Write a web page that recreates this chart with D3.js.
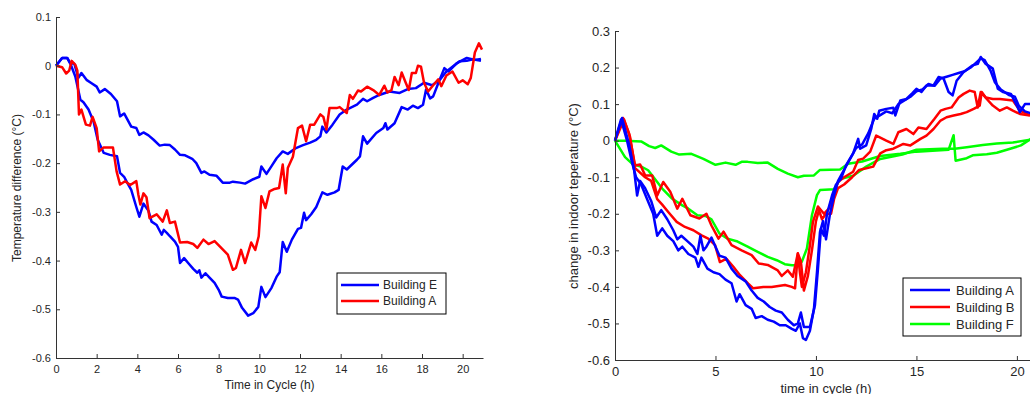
<!DOCTYPE html>
<html>
<head>
<meta charset="utf-8">
<script src="https://cdn.jsdelivr.net/npm/d3@7"></script>
<style>
  body { margin: 0; background: #fff; }
  svg { display: block; font-family: Arial, "Liberation Sans", sans-serif; }
</style>
</head>
<body>
<svg id="chart" width="1030" height="394"></svg>
<script>
// left chart: [time (h), temperature difference]
const leftBuildingE1 = [[0,0],[0.3,0.016],[0.55,0.016],[0.7,0.005],[0.9,0.004],[1.1,-0.025],[1.25,-0.015],[1.5,-0.029],[1.75,-0.036],[2.0,-0.043],[2.15,-0.055],[2.4,-0.048],[2.7,-0.058],[3.0,-0.073],[3.15,-0.104],[3.35,-0.098],[3.7,-0.125],[3.95,-0.128],[4.1,-0.142],[4.3,-0.137],[4.55,-0.143],[4.8,-0.152],[5.1,-0.164],[5.35,-0.162],[5.6,-0.163],[5.85,-0.172],[6.1,-0.183],[6.35,-0.184],[6.7,-0.191],[6.9,-0.2],[7.15,-0.22],[7.3,-0.217],[7.55,-0.224],[7.9,-0.226],[8.2,-0.24],[8.55,-0.24],[8.7,-0.238],[9.05,-0.24],[9.3,-0.242],[9.7,-0.233],[10.0,-0.228],[10.1,-0.207],[10.35,-0.222],[10.6,-0.206],[10.85,-0.19],[11.15,-0.176],[11.4,-0.181],[11.8,-0.169],[12.15,-0.163],[12.5,-0.158],[12.8,-0.152],[13.0,-0.145],[13.1,-0.125],[13.3,-0.137],[13.6,-0.121],[13.95,-0.1],[14.3,-0.09],[14.8,-0.08],[15.1,-0.068],[15.3,-0.073],[15.6,-0.066],[15.9,-0.06],[16.4,-0.053],[16.9,-0.056],[17.3,-0.048],[17.7,-0.046],[18.1,-0.035],[18.5,-0.04],[18.9,-0.028],[19.2,-0.012],[19.5,-0.002],[19.85,0.009],[20.2,0.01],[20.5,0.013],[20.9,0.01]];
const leftBuildingE2 = [[0,0],[0.3,0.016],[0.55,0.016],[0.7,0.005],[0.95,-0.022],[1.2,-0.07],[1.35,-0.075],[1.6,-0.09],[1.85,-0.115],[2.05,-0.152],[2.35,-0.179],[2.65,-0.183],[3.0,-0.186],[3.15,-0.22],[3.35,-0.228],[3.5,-0.24],[3.7,-0.255],[3.95,-0.29],[4.1,-0.31],[4.3,-0.283],[4.55,-0.298],[4.7,-0.32],[4.95,-0.327],[5.2,-0.347],[5.3,-0.337],[5.45,-0.343],[5.6,-0.35],[5.85,-0.361],[6.0,-0.372],[6.1,-0.405],[6.3,-0.395],[6.5,-0.405],[6.75,-0.417],[6.95,-0.425],[7.05,-0.42],[7.15,-0.435],[7.35,-0.426],[7.55,-0.435],[7.8,-0.446],[8.0,-0.46],[8.15,-0.474],[8.45,-0.477],[8.8,-0.477],[8.95,-0.48],[9.15,-0.497],[9.45,-0.513],[9.7,-0.508],[9.95,-0.495],[10.1,-0.454],[10.3,-0.475],[10.6,-0.456],[10.85,-0.433],[11.0,-0.424],[11.15,-0.362],[11.35,-0.382],[11.6,-0.357],[11.9,-0.335],[12.05,-0.333],[12.2,-0.302],[12.3,-0.317],[12.55,-0.305],[12.8,-0.29],[13.1,-0.26],[13.35,-0.265],[13.7,-0.26],[13.9,-0.255],[14.1,-0.207],[14.3,-0.213],[14.8,-0.193],[14.95,-0.186],[15.1,-0.145],[15.3,-0.16],[15.75,-0.138],[16.1,-0.128],[16.2,-0.118],[16.3,-0.131],[16.65,-0.118],[17.0,-0.085],[17.3,-0.09],[17.55,-0.082],[17.8,-0.087],[18.05,-0.08],[18.2,-0.049],[18.4,-0.067],[18.55,-0.063],[18.8,-0.036],[19.1,-0.005],[19.3,-0.012],[19.7,0.005],[20.2,0.016],[20.6,0.012],[20.9,0.014]];
const leftBuildingA = [[0,0],[0.3,-0.003],[0.5,-0.016],[0.65,-0.01],[0.77,0.01],[0.95,0.002],[1.05,-0.01],[1.13,-0.1],[1.25,-0.09],[1.47,-0.121],[1.67,-0.123],[1.8,-0.105],[2.0,-0.128],[2.12,-0.176],[2.33,-0.168],[2.8,-0.168],[2.98,-0.217],[3.15,-0.244],[3.4,-0.237],[3.65,-0.245],[3.95,-0.237],[4.05,-0.265],[4.15,-0.285],[4.3,-0.262],[4.45,-0.27],[4.6,-0.313],[4.95,-0.305],[5.25,-0.32],[5.45,-0.297],[5.6,-0.323],[5.85,-0.32],[6.1,-0.363],[6.45,-0.362],[6.75,-0.366],[6.95,-0.374],[7.25,-0.357],[7.5,-0.366],[7.8,-0.36],[8.15,-0.375],[8.45,-0.388],[8.7,-0.419],[8.85,-0.415],[9.1,-0.378],[9.3,-0.405],[9.6,-0.363],[9.8,-0.378],[9.97,-0.35],[10.1,-0.268],[10.3,-0.292],[10.5,-0.258],[10.75,-0.253],[10.97,-0.251],[11.15,-0.203],[11.3,-0.262],[11.4,-0.21],[11.65,-0.187],[11.9,-0.128],[12.1,-0.123],[12.3,-0.155],[12.5,-0.121],[12.7,-0.121],[13.0,-0.1],[13.15,-0.105],[13.3,-0.131],[13.45,-0.087],[13.8,-0.087],[13.95,-0.085],[14.3,-0.097],[14.45,-0.06],[14.6,-0.068],[14.85,-0.051],[15.0,-0.053],[15.3,-0.043],[15.6,-0.05],[15.9,-0.06],[16.15,-0.041],[16.3,-0.055],[16.5,-0.05],[16.65,-0.023],[16.85,-0.04],[17.0,-0.014],[17.2,-0.035],[17.35,-0.05],[17.5,-0.015],[17.7,-0.015],[17.8,0],[17.95,-0.002],[18.1,-0.035],[18.3,-0.053],[18.55,-0.04],[18.8,-0.028],[18.95,-0.042],[19.2,-0.02],[19.5,-0.012],[19.8,-0.035],[20.0,-0.03],[20.25,-0.038],[20.4,-0.025],[20.6,0.027],[20.8,0.046],[20.95,0.033]];

// right chart: [time (h), change in indoor temperature]
const rightBuildingA1 = [[0,0],[0.35,0.062],[0.7,-0.01],[0.95,-0.08],[1.1,-0.15],[1.25,-0.11],[1.5,-0.13],[1.8,-0.165],[2.05,-0.21],[2.3,-0.19],[2.6,-0.215],[2.9,-0.245],[3.1,-0.27],[3.3,-0.26],[3.6,-0.275],[3.9,-0.29],[4.1,-0.31],[4.25,-0.26],[4.4,-0.3],[4.55,-0.29],[4.8,-0.265],[5.0,-0.29],[5.2,-0.315],[5.5,-0.32],[5.8,-0.35],[6.1,-0.37],[6.5,-0.385],[6.8,-0.41],[7.1,-0.43],[7.4,-0.44],[7.7,-0.455],[8.0,-0.465],[8.3,-0.47],[8.6,-0.49],[8.9,-0.505],[9.1,-0.5],[9.25,-0.47],[9.4,-0.51],[9.7,-0.51],[9.95,-0.45],[10.1,-0.35],[10.25,-0.24],[10.4,-0.26],[10.55,-0.2],[10.8,-0.15],[11.0,-0.12],[11.25,-0.104],[11.5,-0.067],[11.85,-0.035],[12.1,0.005],[12.2,-0.022],[12.5,-0.013],[12.75,0.032],[12.9,0.073],[13.05,0.06],[13.15,0.082],[13.5,0.087],[13.85,0.09],[13.95,0.069],[14.2,0.11],[14.5,0.114],[14.8,0.13],[15.0,0.142],[15.25,0.133],[15.5,0.151],[15.85,0.151],[16.1,0.174],[16.35,0.17],[16.6,0.133],[16.8,0.124],[17.0,0.164],[17.35,0.188],[17.8,0.206],[18.05,0.21],[18.2,0.229],[18.45,0.21],[18.8,0.197],[19.05,0.142],[19.3,0.133],[19.7,0.128],[20.0,0.096],[20.15,0.078],[20.4,0.1],[20.7,0.1]];
const rightBuildingA2 = [[0,0],[0.3,0.058],[0.6,0],[0.85,-0.06],[1.05,-0.1],[1.3,-0.12],[1.6,-0.16],[1.9,-0.2],[2.1,-0.26],[2.35,-0.24],[2.6,-0.26],[2.9,-0.275],[3.15,-0.3],[3.35,-0.29],[3.65,-0.31],[4.0,-0.32],[4.15,-0.345],[4.3,-0.32],[4.6,-0.35],[4.9,-0.36],[5.2,-0.365],[5.5,-0.38],[5.8,-0.39],[6.05,-0.44],[6.2,-0.42],[6.5,-0.45],[6.8,-0.46],[7.0,-0.485],[7.3,-0.48],[7.6,-0.49],[7.9,-0.495],[8.2,-0.505],[8.5,-0.505],[8.8,-0.515],[9.0,-0.52],[9.2,-0.5],[9.35,-0.54],[9.5,-0.545],[9.7,-0.52],[9.9,-0.46],[10.05,-0.36],[10.2,-0.25],[10.35,-0.22],[10.5,-0.27],[10.7,-0.2],[10.9,-0.15],[11.1,-0.11],[11.4,-0.08],[11.7,-0.05],[12.0,-0.02],[12.3,-0.01],[12.6,0.02],[12.9,0.06],[13.2,0.07],[13.5,0.08],[13.8,0.075],[14.1,0.1],[14.4,0.11],[14.7,0.12],[15.0,0.135],[15.3,0.14],[15.6,0.155],[15.9,0.15],[16.2,0.17],[16.5,0.175],[16.8,0.18],[17.1,0.185],[17.4,0.19],[17.7,0.2],[18.0,0.215],[18.2,0.225],[18.4,0.22],[18.7,0.19],[18.9,0.16],[19.2,0.14],[19.6,0.125],[19.9,0.12],[20.1,0.095],[20.4,0.08],[20.7,0.075]];
const rightBuildingB1 = [[0,0],[0.4,0.062],[0.7,0.02],[1.0,-0.068],[1.25,-0.065],[1.5,-0.095],[1.85,-0.095],[2.1,-0.15],[2.4,-0.113],[2.75,-0.14],[3.1,-0.186],[3.35,-0.159],[3.75,-0.204],[4.2,-0.213],[4.55,-0.2],[4.8,-0.232],[5.15,-0.268],[5.4,-0.249],[5.8,-0.286],[6.3,-0.3],[6.8,-0.313],[7.15,-0.336],[7.6,-0.34],[8.1,-0.355],[8.3,-0.37],[8.6,-0.355],[8.85,-0.372],[9.1,-0.308],[9.2,-0.36],[9.3,-0.4],[9.5,-0.36],[9.7,-0.286],[9.85,-0.222],[10.1,-0.18],[10.4,-0.2],[10.65,-0.185],[10.85,-0.149],[11.1,-0.113],[11.4,-0.1],[11.85,-0.085],[12.1,-0.053],[12.35,-0.049],[12.7,-0.03],[13.0,0.014],[13.5,0],[13.85,-0.009],[14.1,0.023],[14.5,0.032],[14.85,0.018],[15.1,0.036],[15.5,0.032],[15.9,0.06],[16.2,0.082],[16.45,0.087],[16.75,0.091],[17.1,0.118],[17.35,0.128],[17.65,0.137],[17.9,0.133],[18.05,0.091],[18.2,0.133],[18.45,0.118],[18.8,0.114],[19.15,0.114],[19.8,0.11],[20.15,0.082],[20.65,0.069]];
const rightBuildingB2 = [[0,0],[0.45,0.058],[0.75,0.01],[1.0,-0.075],[1.5,-0.1],[1.8,-0.11],[2.1,-0.16],[2.35,-0.175],[2.65,-0.195],[3.07,-0.222],[3.48,-0.236],[3.9,-0.245],[4.31,-0.259],[4.64,-0.268],[4.98,-0.286],[5.22,-0.332],[5.55,-0.323],[5.89,-0.345],[6.22,-0.368],[6.63,-0.391],[6.88,-0.404],[7.38,-0.4],[7.8,-0.4],[8.46,-0.395],[8.8,-0.4],[8.96,-0.404],[9.1,-0.309],[9.25,-0.33],[9.4,-0.41],[9.6,-0.37],[9.8,-0.3],[10.0,-0.22],[10.15,-0.19],[10.3,-0.215],[10.5,-0.2],[10.75,-0.2],[10.9,-0.16],[11.1,-0.13],[11.4,-0.12],[11.8,-0.1],[12.15,-0.08],[12.85,-0.071],[13.2,-0.035],[13.5,-0.026],[13.85,-0.022],[14.35,-0.009],[14.7,-0.013],[15.2,0.005],[15.5,0.014],[15.85,0.032],[16.2,0.055],[16.5,0.064],[16.85,0.069],[17.2,0.073],[17.5,0.078],[17.85,0.087],[18.15,0.096],[18.25,0.133],[18.5,0.114],[18.8,0.096],[19.15,0.082],[19.5,0.091],[19.8,0.082],[20.15,0.073],[20.65,0.069]];
const rightBuildingF1 = [[0,0],[0.5,0],[1.3,-0.002],[1.7,-0.015],[2.0,-0.02],[2.3,-0.013],[2.8,-0.03],[3.2,-0.038],[3.8,-0.036],[4.4,-0.05],[5.0,-0.066],[5.5,-0.06],[6.0,-0.066],[6.3,-0.058],[6.6,-0.058],[7.1,-0.061],[7.6,-0.06],[8.1,-0.077],[8.6,-0.09],[9.1,-0.1],[9.4,-0.096],[9.9,-0.095],[10.2,-0.08],[11.2,-0.079],[11.6,-0.063],[12.3,-0.057],[13.2,-0.042],[14.2,-0.036],[15.0,-0.03],[16.6,-0.025],[16.85,0.015],[16.95,-0.055],[17.5,-0.048],[17.8,-0.04],[18.5,-0.037],[19.0,-0.033],[19.5,-0.025],[20.2,-0.013],[20.7,0.005]];
const rightBuildingF2 = [[0,0],[0.5,-0.045],[0.85,-0.063],[1.35,-0.072],[1.65,-0.081],[1.9,-0.099],[2.35,-0.131],[2.85,-0.159],[3.35,-0.177],[3.65,-0.186],[4.1,-0.204],[4.5,-0.206],[4.8,-0.215],[5.2,-0.254],[5.6,-0.268],[6.1,-0.276],[6.6,-0.29],[7.1,-0.304],[7.6,-0.318],[8.05,-0.327],[8.45,-0.338],[8.8,-0.341],[9.1,-0.341],[9.3,-0.331],[9.55,-0.295],[9.8,-0.204],[10.05,-0.149],[10.2,-0.135],[10.9,-0.133],[11.2,-0.105],[11.85,-0.096],[12.5,-0.071],[13.2,-0.05],[14.3,-0.038],[15.0,-0.025],[16.3,-0.022],[16.9,-0.022],[17.5,-0.018],[18.3,-0.012],[19.0,-0.008],[19.8,-0.005],[20.7,0.003]];

const leftXTicks = [0, 2, 4, 6, 8, 10, 12, 14, 16, 18, 20];
const leftYTicks = [0.1, 0, -0.1, -0.2, -0.3, -0.4, -0.5, -0.6];
const leftYTickLabels = ["0.1", "0", "-0.1", "-0.2", "-0.3", "-0.4", "-0.5", "-0.6"];
const rightXTicks = [0, 5, 10, 15, 20];
const rightYTicks = [0.3, 0.2, 0.1, 0, -0.1, -0.2, -0.3, -0.4, -0.5, -0.6];
const rightYTickLabels = ["0.3", "0.2", "0.1", "0", "-0.1", "-0.2", "-0.3", "-0.4", "-0.5", "-0.6"];

const leftLegend = ["Building E", "Building A"];
const rightLegend = ["Building A", "Building B", "Building F"];

const BLUE = "#0000ff", RED = "#ff0000", GREEN = "#00ff00";
const svg = d3.select("#chart");

function drawPanel(opts) {
    const x = d3.scaleLinear().domain(opts.xDomain).range(opts.xRange);
    const y = d3.scaleLinear().domain(opts.yDomain).range(opts.yRange);
    const g = svg.append("g").style("font-size", opts.fontSize + "px");

    const line = d3.line().x(d => x(d[0])).y(d => y(d[1]));
    opts.series.forEach(function (s) {
        g.append("path")
            .datum(s.data)
            .attr("fill", "none")
            .attr("stroke", s.color)
            .attr("stroke-width", 2.5)
            .attr("stroke-linejoin", "round")
            .attr("d", line);
    });

    // inward ticks like the matlab figure
    const xAxis = g.append("g")
        .attr("transform", "translate(0," + opts.yRange[0] + ")")
        .call(d3.axisBottom(x).tickValues(opts.xTicks).tickSizeInner(-4).tickSizeOuter(0)
            .tickPadding(opts.xPad).tickFormat(d3.format("d")));
    const yAxis = g.append("g")
        .attr("transform", "translate(" + opts.xRange[0] + ",0)")
        .call(d3.axisLeft(y).tickValues(opts.yTicks).tickSizeInner(-4).tickSizeOuter(0)
            .tickPadding(5).tickFormat((d, i) => opts.yTickLabels[i]));
    [xAxis, yAxis].forEach(function (a) {
        a.attr("font-size", null).attr("font-family", null);
        a.select(".domain").attr("stroke", "#333");
        a.selectAll(".tick line").attr("stroke", "#333");
        a.selectAll(".tick text").attr("fill", "#262626");
    });

    g.append("text")
        .attr("x", (opts.xRange[0] + x(opts.xDomain[1])) / 2)
        .attr("y", opts.xLabelY)
        .attr("text-anchor", "middle")
        .attr("fill", "#262626")
        .style("font-size", opts.labelSize + "px")
        .text(opts.xLabel);
    g.append("text")
        .attr("transform", "translate(" + opts.yLabelX + "," + opts.yLabelCY + ") rotate(-90)")
        .attr("text-anchor", "middle")
        .attr("fill", "#262626")
        .style("font-size", opts.labelSize + "px")
        .text(opts.yLabel);

    // legend box
    const lg = opts.legend;
    g.append("rect")
        .attr("x", lg.x).attr("y", lg.y).attr("width", lg.w).attr("height", lg.h)
        .attr("fill", "#fff").attr("stroke", "#000").attr("stroke-width", 1);
    lg.names.forEach(function (name, i) {
        const ly = lg.rows[i];
        g.append("line")
            .attr("x1", lg.lineX[0]).attr("x2", lg.lineX[1])
            .attr("y1", ly).attr("y2", ly)
            .attr("stroke", lg.colors[i]).attr("stroke-width", 2.5);
        g.append("text")
            .attr("x", lg.textX).attr("y", ly)
            .attr("dy", "0.36em")
            .attr("fill", "#262626")
            .style("font-size", lg.fontSize + "px")
            .text(name);
    });
}

drawPanel({
    xDomain: [0, 21], xRange: [56, 483],
    yDomain: [-0.6, 0.1], yRange: [358, 17],
    xTicks: leftXTicks, yTicks: leftYTicks, yTickLabels: leftYTickLabels,
    fontSize: 11, labelSize: 12, xPad: 7,
    xLabel: "Time in Cycle (h)", xLabelY: 389,
    yLabel: "Temperature difference (\u00b0C)", yLabelX: 21, yLabelCY: 188,
    series: [
        { data: leftBuildingE1, color: BLUE },
        { data: leftBuildingE2, color: BLUE },
        { data: leftBuildingA, color: RED }
    ],
    legend: { x: 337, y: 273, w: 109, h: 41, lineX: [341, 379], textX: 383,
              rows: [285, 301], names: leftLegend, colors: [BLUE, RED], fontSize: 12 }
});

drawPanel({
    xDomain: [0, 21], xRange: [615, 1037],
    yDomain: [-0.6, 0.3], yRange: [360, 31],
    xTicks: rightXTicks, yTicks: rightYTicks, yTickLabels: rightYTickLabels,
    fontSize: 13, labelSize: 13, xPad: 7,
    xLabel: "time in cycle (h)", xLabelY: 393,
    yLabel: "change in indoor teperature (\u00b0C)", yLabelX: 578, yLabelCY: 196,
    series: [
        { data: rightBuildingF1, color: GREEN },
        { data: rightBuildingF2, color: GREEN },
        { data: rightBuildingB1, color: RED },
        { data: rightBuildingB2, color: RED },
        { data: rightBuildingA1, color: BLUE },
        { data: rightBuildingA2, color: BLUE }
    ],
    legend: { x: 903, y: 278, w: 118, h: 58, lineX: [910, 950], textX: 956,
              rows: [290, 307, 324], names: rightLegend, colors: [BLUE, RED, GREEN], fontSize: 13 }
});
</script>
</body>
</html>
